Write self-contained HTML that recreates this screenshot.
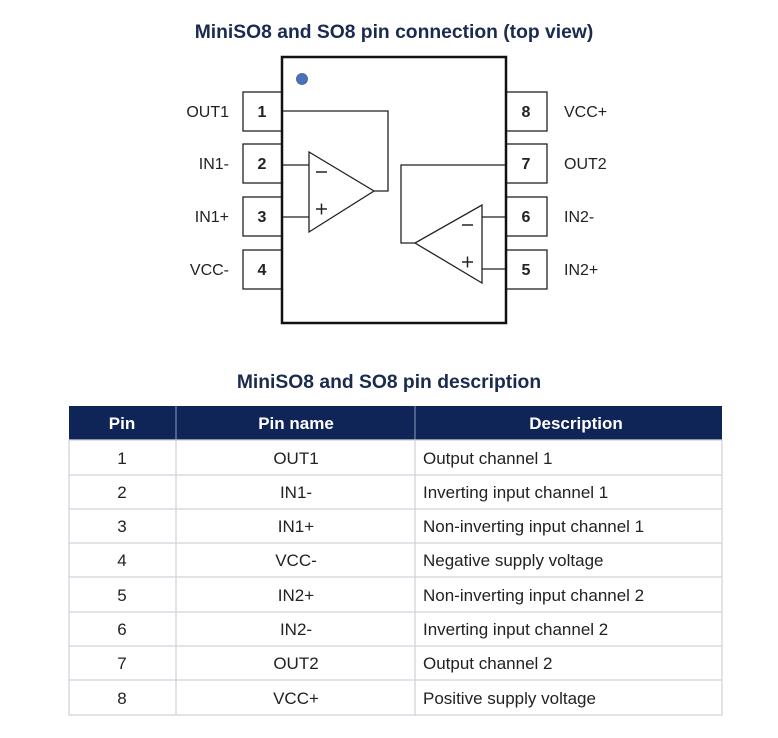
<!DOCTYPE html>
<html><head><style>
html,body{margin:0;padding:0;background:#fff;width:778px;height:738px;overflow:hidden}
svg{display:block}
text{font-family:"Liberation Sans",Arial,sans-serif}
</style></head><body>
<svg width="778" height="738" viewBox="0 0 778 738" xmlns="http://www.w3.org/2000/svg">
<text x="394" y="38" text-anchor="middle" font-size="19.3" font-weight="bold" fill="#1a2a50">MiniSO8 and SO8 pin connection (top view)</text>
<g fill="#fff" stroke="#222" stroke-width="1.3">
<rect x="243" y="92" width="39" height="39"/><rect x="243" y="144" width="39" height="39"/>
<rect x="243" y="197" width="39" height="39"/><rect x="243" y="250" width="39" height="39"/>
<rect x="506" y="92" width="41" height="39"/><rect x="506" y="144" width="41" height="39"/>
<rect x="506" y="197" width="41" height="39"/><rect x="506" y="250" width="41" height="39"/>
</g>
<rect x="282" y="57" width="224" height="266" fill="#fff" stroke="#111" stroke-width="2.5"/>
<circle cx="302" cy="79" r="5.5" fill="#4a72b8" stroke="#3a5a9a" stroke-width="0.8"/>
<g fill="none" stroke="#222" stroke-width="1.3">
<polygon points="309,152 309,232 374,191"/>
<polyline points="374,191 388,191 388,111 283,111"/>
<line x1="283" y1="165" x2="309" y2="165"/><line x1="283" y1="217" x2="309" y2="217"/>
<polygon points="482,205 482,283 415,243"/>
<polyline points="415,243 401,243 401,165 505,165"/>
<line x1="482" y1="217" x2="505" y2="217"/><line x1="482" y1="269" x2="505" y2="269"/>
</g>
<g stroke="#222" stroke-width="1.5">
<line x1="316" y1="172" x2="327" y2="172"/>
<line x1="316" y1="209" x2="327" y2="209"/><line x1="321.5" y1="203.5" x2="321.5" y2="214.5"/>
<line x1="462" y1="225" x2="473" y2="225"/>
<line x1="462" y1="262" x2="473" y2="262"/><line x1="467.5" y1="256.5" x2="467.5" y2="267.5"/>
</g>
<g font-size="16" font-weight="bold" fill="#222" text-anchor="middle">
<text x="262" y="117">1</text><text x="262" y="169">2</text><text x="262" y="222">3</text><text x="262" y="275">4</text>
<text x="526" y="117">8</text><text x="526" y="169">7</text><text x="526" y="222">6</text><text x="526" y="275">5</text>
</g>
<g font-size="16" fill="#222">
<g text-anchor="end"><text x="229" y="117">OUT1</text><text x="229" y="169">IN1-</text><text x="229" y="222">IN1+</text><text x="229" y="275">VCC-</text></g>
<text x="564" y="117">VCC+</text><text x="564" y="169">OUT2</text><text x="564" y="222">IN2-</text><text x="564" y="275">IN2+</text>
</g>
<text x="389" y="388" text-anchor="middle" font-size="19.3" font-weight="bold" fill="#1a2a50">MiniSO8 and SO8 pin description</text>
<rect x="69" y="406" width="653" height="34" fill="#0f2557"/>
<g fill="#fff" font-size="17" font-weight="bold" text-anchor="middle">
<text x="122" y="429">Pin</text><text x="296" y="429">Pin name</text><text x="576" y="429">Description</text>
</g>
<line x1="176" y1="406" x2="176" y2="440" stroke="#8a9ab8" stroke-width="1"/>
<line x1="415" y1="406" x2="415" y2="440" stroke="#8a9ab8" stroke-width="1"/>
<g stroke="#cfd4dc" stroke-width="1.3" fill="none">
<rect x="69" y="440" width="653" height="275"/>
<line x1="176" y1="440" x2="176" y2="715"/><line x1="415" y1="440" x2="415" y2="715"/>
<line x1="69" y1="475" x2="722" y2="475"/><line x1="69" y1="509" x2="722" y2="509"/>
<line x1="69" y1="543" x2="722" y2="543"/><line x1="69" y1="577" x2="722" y2="577"/>
<line x1="69" y1="612" x2="722" y2="612"/><line x1="69" y1="646" x2="722" y2="646"/>
<line x1="69" y1="680" x2="722" y2="680"/>
</g>
<g font-size="17" fill="#222">
<g text-anchor="middle">
<text x="122" y="464">1</text><text x="122" y="498">2</text><text x="122" y="532">3</text><text x="122" y="566">4</text>
<text x="122" y="601">5</text><text x="122" y="635">6</text><text x="122" y="669">7</text><text x="122" y="704">8</text>
<text x="296" y="464">OUT1</text><text x="296" y="498">IN1-</text><text x="296" y="532">IN1+</text><text x="296" y="566">VCC-</text>
<text x="296" y="601">IN2+</text><text x="296" y="635">IN2-</text><text x="296" y="669">OUT2</text><text x="296" y="704">VCC+</text>
</g>
<text x="423" y="464">Output channel 1</text><text x="423" y="498">Inverting input channel 1</text>
<text x="423" y="532">Non-inverting input channel 1</text><text x="423" y="566">Negative supply voltage</text>
<text x="423" y="601">Non-inverting input channel 2</text><text x="423" y="635">Inverting input channel 2</text>
<text x="423" y="669">Output channel 2</text><text x="423" y="704">Positive supply voltage</text>
</g>
</svg>
</body></html>
